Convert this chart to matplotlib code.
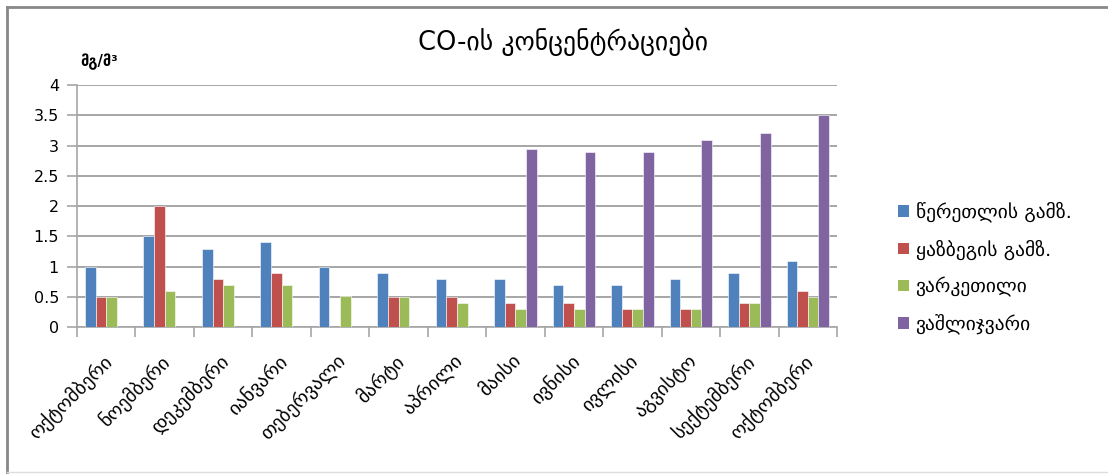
import numpy as np
import matplotlib
matplotlib.use("Agg")
import matplotlib.pyplot as plt
import matplotlib.transforms as mtransforms
from matplotlib.lines import Line2D
from matplotlib.patches import Patch

plt.rcParams['font.family'] = ['DejaVu Sans']

months = ["ოქტომბერი", "ნოემბერი", "დეკემბერი", "იანვარი", "თებერვალი", "მარტი",
          "აპრილი", "მაისი", "ივნისი", "ივლისი", "აგვისტო", "სექტემბერი", "ოქტომბერი"]

series_names = ["წერეთლის გამზ.", "ყაზბეგის გამზ.", "ვარკეთილი", "ვაშლიჯვარი"]

tsereteli = [1.0, 1.5, 1.3, 1.4, 1.0, 0.9, 0.8, 0.8, 0.7, 0.7, 0.8, 0.9, 1.1]
kazbegi = [0.5, 2.0, 0.8, 0.9, None, 0.5, 0.5, 0.4, 0.4, 0.3, 0.3, 0.4, 0.6]
varketili = [0.5, 0.6, 0.7, 0.7, 0.52, 0.5, 0.4, 0.3, 0.3, 0.3, 0.3, 0.4, 0.5]
vashlijvari = [None, None, None, None, None, None, None, 2.94, 2.9, 2.9, 3.1, 3.2, 3.5]

colors = ["#4F81BD", "#C0504D", "#9BBB59", "#8064A2"]

W, H = 1108, 474
fig = plt.figure(figsize=(W / 100, H / 100), dpi=100)
fig.patch.set_facecolor("white")

# plot area in pixel terms
left, right, top, bottom = 77, 837, 85, 327.3
ax = fig.add_axes([left / W, 1 - bottom / H, (right - left) / W, (bottom - top) / H])

n = len(months)
x = np.arange(n)
bw = 1 / 5.5
data = [tsereteli, kazbegi, varketili, vashlijvari]
for i, (vals, c) in enumerate(zip(data, colors)):
    v = np.array([np.nan if d is None else d for d in vals], dtype=float)
    ax.bar(x + (i - 1.5) * bw, v, width=bw, color=c, edgecolor="#ffffff",
           linewidth=0.4, zorder=3)

ax.set_xlim(-0.5, n - 0.5)
ax.set_ylim(0, 4)
yt = np.arange(0, 4.01, 0.5)
ax.set_yticks(yt)
ax.set_yticklabels(["0", "0.5", "1", "1.5", "2", "2.5", "3", "3.5", "4"], fontsize=11.5)
ax.yaxis.grid(True, color="#a6a6a6", linewidth=1.4, zorder=0)
ax.set_axisbelow(True)

# category boundaries carry the tick marks, month names sit under each group
ax.set_xticks(np.arange(-0.5, n, 1))
ax.set_xticklabels([])
ax.tick_params(axis="x", length=7, color="#a6a6a6", width=1.2)
ax.tick_params(axis="y", length=7, color="#a6a6a6", width=1.2, pad=6)

label_offset = mtransforms.ScaledTranslation(-3 / 72, -17 / 72, fig.dpi_scale_trans)
for xi, name in zip(x, months):
    ax.text(xi, 0, name, transform=ax.get_xaxis_transform() + label_offset,
            rotation=45, ha="right", va="top", rotation_mode="anchor", fontsize=14)

for s in ["top", "right"]:
    ax.spines[s].set_visible(False)
for s in ["left", "bottom"]:
    ax.spines[s].set_color("#a6a6a6")
    ax.spines[s].set_linewidth(1.2)

fig.text(563 / W, 1 - 42 / H, "CO-ის კონცენტრაციები", ha="center", va="center", fontsize=18.5)
fig.text(80 / W, 1 - 62 / H, "მგ/მ³", ha="left", va="center", fontsize=10.5, fontweight="bold")

handles = [Patch(facecolor=c, edgecolor="none") for c in colors]
fig.legend(handles, series_names, loc="center left", bbox_to_anchor=(898 / W, 1 - 268 / H),
           frameon=False, fontsize=14, handlelength=0.55, handleheight=0.55,
           handletextpad=0.35, labelspacing=0.88, borderpad=0, borderaxespad=0)

# outer chart frame
fig.add_artist(Line2D([7 / W, 1], [1 - 7 / H, 1 - 7 / H], color="#888888", linewidth=2))
fig.add_artist(Line2D([7 / W, 7 / W], [1 - 7 / H, 1 - 472 / H], color="#888888", linewidth=2))
fig.add_artist(Line2D([7 / W, 1], [1 - 472 / H, 1 - 472 / H], color="#dddddd", linewidth=1))

fig.savefig("out.png", dpi=100, facecolor="white")
